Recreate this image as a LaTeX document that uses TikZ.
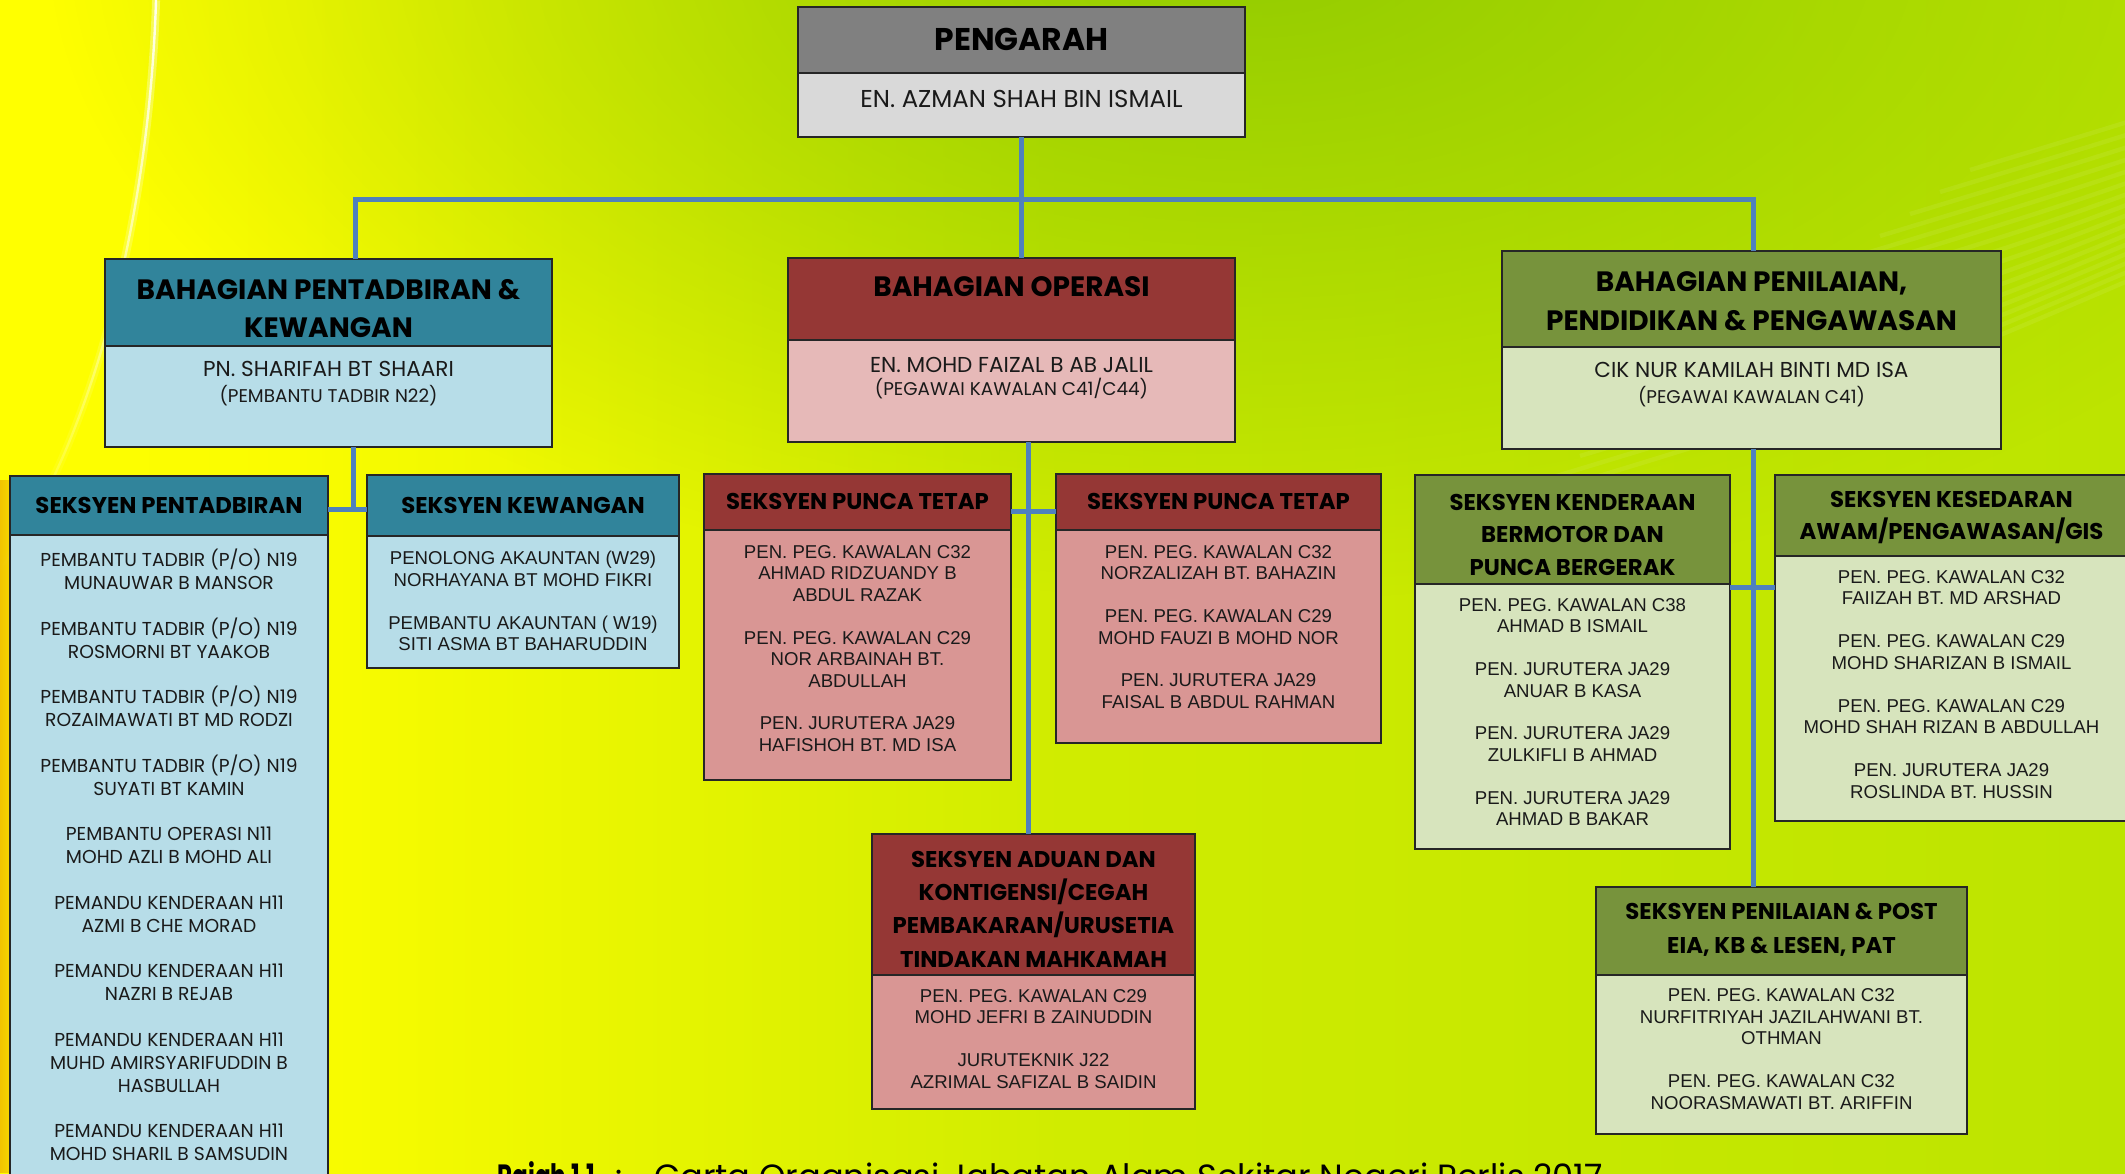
\documentclass[tikz,border=0pt]{standalone}
\usepackage{fontspec}
\usepackage{graphicx}
\setmainfont{Liberation Sans}
\newfontfamily\cg{Poppins}
\newfontfamily\ar{Liberation Sans}
\usetikzlibrary{fadings}
\definecolor{bgA}{HTML}{FFFF00}
\definecolor{bgB}{HTML}{FAFC00}
\definecolor{bgC}{HTML}{D0EC00}
\definecolor{bgD}{HTML}{BCE400}
\definecolor{glowc}{HTML}{8CC800}
\definecolor{orangetint}{HTML}{F2C400}
\definecolor{greyH}{HTML}{808080}
\definecolor{greyB}{HTML}{D9D9D9}
\definecolor{tealH}{HTML}{31849B}
\definecolor{tealB}{HTML}{B7DDE8}
\definecolor{redH}{HTML}{953735}
\definecolor{pinkL}{HTML}{E6B9B8}
\definecolor{pinkB}{HTML}{D99694}
\definecolor{oliveH}{HTML}{77933C}
\definecolor{oliveB}{HTML}{D7E4BD}
\definecolor{linkc}{HTML}{4F81BD}
\definecolor{txtc}{HTML}{1A1A1A}
\pgfdeclarehorizontalshading{bgsh}{100bp}{color(0bp)=(bgA); color(25bp)=(bgA); color(32bp)=(bgB); color(50bp)=(bgC); color(75bp)=(bgD); color(100bp)=(bgD)}
\tikzfading[name=glowfade, inner color=transparent!10, outer color=transparent!100]
\newcommand\fs[2]{\fontsize{#1}{#2}\selectfont}
\begin{document}
\begin{tikzpicture}[x=0.5pt,y=-0.5pt,
  bx/.style={draw=black!85, line width=0.8pt, anchor=north west, inner sep=0pt, outer sep=0pt},
  sz/.style 2 args={minimum width={#1*0.5pt}, minimum height={#2*0.5pt}},
  txt/.style={align=center, inner sep=0pt, anchor=center, text=txtc},
  hcg/.style={txt, text=black, font=\cg\bfseries\fs{#1}{#1}},
  conn/.style={draw=linkc, line width=2.5pt}
]
\clip (0,0) rectangle (2125,1173);
% background
\shade[shading=bgsh] (0,0) rectangle (2125,1173);
\fill[glowc, path fading=glowfade] (1250,-60) ellipse [x radius=600pt, y radius=330pt];
\fill[orangetint, path fading=east] (0,480) rectangle (30,1173);
\foreach \i in {0,...,15}
  \draw[white, opacity=0.07, line width=2.2pt] (1520+30*\i,500-22*\i) .. controls (1850+30*\i,400-22*\i) .. (2200+30*\i,250-22*\i);
\draw[white, opacity=0.35, line width=4pt, path fading=south] (156,0) .. controls (150,200) and (100,430) .. (0,570);
\draw[white, opacity=0.9, line width=1.2pt, path fading=south] (156,0) .. controls (150,200) and (100,430) .. (0,570);

% PENGARAH
\node[bx, fill=greyH, sz={447}{66}] (pgH) at (798,7) {};
\node[bx, fill=greyB, sz={447}{64}] (pgB) at (798,73) {};
\node[hcg=15.7] (pgHt) at (1021.5,39) {PENGARAH};
\node[txt, font=\cg\fs{12.2}{14}] (pgBt) at (1021.5,99) {EN. AZMAN SHAH BIN ISMAIL};

% BAHAGIAN PENTADBIRAN & KEWANGAN
\node[bx, fill=tealH, sz={447}{87}] (bpH) at (105,259) {};
\node[bx, fill=tealB, sz={447}{101}] (bpB) at (105,346) {};
\node[txt, text=black, font=\cg\bfseries\fs{14}{19}] (bpHt) at (328.5,309) {BAHAGIAN PENTADBIRAN \&\\KEWANGAN};
\node[txt, font=\cg\fs{10.8}{12}] (bpT1) at (328.5,369) {PN. SHARIFAH BT SHAARI};
\node[txt, font=\cg\fs{9.2}{10}] (bpT2) at (328.5,396) {(PEMBANTU TADBIR N22)};

% BAHAGIAN OPERASI
\node[bx, fill=redH, sz={447}{82}] (opH) at (788,258) {};
\node[bx, fill=pinkL, sz={447}{102}] (opB) at (788,340) {};
\node[hcg=14] (opHt) at (1011.5,287) {BAHAGIAN OPERASI};
\node[txt, font=\cg\fs{10.8}{12}] (opT1) at (1011.5,365) {EN. MOHD FAIZAL B AB JALIL};
\node[txt, font=\cg\fs{9.2}{10}] (opT2) at (1011.5,389) {(PEGAWAI KAWALAN C41/C44)};

% BAHAGIAN PENILAIAN
\node[bx, fill=oliveH, sz={499}{96}] (pnH) at (1502,251) {};
\node[bx, fill=oliveB, sz={499}{102}] (pnB) at (1502,347) {};
\node[txt, text=black, font=\cg\bfseries\fs{14}{19.5}] (pnHt) at (1751.5,301.5) {BAHAGIAN PENILAIAN,\\PENDIDIKAN \& PENGAWASAN};
\node[txt, font=\cg\fs{10.8}{12}] (pnT1) at (1751.5,370) {CIK NUR KAMILAH BINTI MD ISA};
\node[txt, font=\cg\fs{9.2}{10}] (pnT2) at (1751.5,397) {(PEGAWAI KAWALAN C41)};

% SEKSYEN PENTADBIRAN
\node[bx, fill=tealH, sz={318}{59}] (spH) at (10,476) {};
\node[bx, fill=tealB, sz={318}{700}] (spB) at (10,535) {};
\node[hcg=11.4] (spHt) at (169,505) {SEKSYEN PENTADBIRAN};
\node[txt, font=\cg\fs{9.35}{11.42}] (spBt) at (169,855) {PEMBANTU TADBIR (P/O) N19\\MUNAUWAR B MANSOR\\[11.42pt]
PEMBANTU TADBIR (P/O) N19\\ROSMORNI BT YAAKOB\\[11.42pt]
PEMBANTU TADBIR (P/O) N19\\ROZAIMAWATI BT MD RODZI\\[11.42pt]
PEMBANTU TADBIR (P/O) N19\\SUYATI BT KAMIN\\[11.42pt]
PEMBANTU OPERASI N11\\MOHD AZLI B MOHD ALI\\[11.42pt]
PEMANDU KENDERAAN H11\\AZMI B CHE MORAD\\[11.42pt]
PEMANDU KENDERAAN H11\\NAZRI B REJAB\\[11.42pt]
PEMANDU KENDERAAN H11\\MUHD AMIRSYARIFUDDIN B\\HASBULLAH\\[11.42pt]
PEMANDU KENDERAAN H11\\MOHD SHARIL B SAMSUDIN};

% SEKSYEN KEWANGAN
\node[bx, fill=tealH, sz={312}{61}] (skH) at (367,475) {};
\node[bx, fill=tealB, sz={312}{132}] (skB) at (367,536) {};
\node[hcg=11.4] (skHt) at (523,505) {SEKSYEN KEWANGAN};
\node[txt, font=\ar\fs{9.3}{10.75}] (skBt) at (523,601) {PENOLONG AKAUNTAN (W29)\\NORHAYANA BT MOHD FIKRI\\[10.75pt]
PEMBANTU AKAUNTAN ( W19)\\SITI ASMA BT BAHARUDDIN};

% SEKSYEN PUNCA TETAP (kiri)
\node[bx, fill=redH, sz={307}{56}] (ptlH) at (704,474) {};
\node[bx, fill=pinkB, sz={307}{250}] (ptlB) at (704,530) {};
\node[hcg=11.4] (ptlHt) at (857.5,501) {SEKSYEN PUNCA TETAP};
\node[txt, font=\ar\fs{9.3}{10.72}] (ptlBt) at (857.5,648.5) {PEN. PEG. KAWALAN C32\\AHMAD RIDZUANDY B\\ABDUL RAZAK\\[10.72pt]
PEN. PEG. KAWALAN C29\\NOR ARBAINAH BT.\\ABDULLAH\\[10.72pt]
PEN. JURUTERA JA29\\HAFISHOH BT. MD ISA};

% SEKSYEN PUNCA TETAP (kanan)
\node[bx, fill=redH, sz={325}{56}] (ptrH) at (1056,474) {};
\node[bx, fill=pinkB, sz={325}{213}] (ptrB) at (1056,530) {};
\node[hcg=11.4] (ptrHt) at (1218.5,501) {SEKSYEN PUNCA TETAP};
\node[txt, font=\ar\fs{9.3}{10.7}] (ptrBt) at (1218.5,627) {PEN. PEG. KAWALAN C32\\NORZALIZAH BT. BAHAZIN\\[10.7pt]
PEN. PEG. KAWALAN C29\\MOHD FAUZI B MOHD NOR\\[10.7pt]
PEN. JURUTERA JA29\\FAISAL B ABDUL RAHMAN};

% SEKSYEN ADUAN
\node[bx, fill=redH, sz={323}{141}] (adH) at (872,834) {};
\node[bx, fill=pinkB, sz={323}{134}] (adB) at (872,975) {};
\node[txt, text=black, font=\cg\bfseries\fs{11.4}{16.65}] (adHt) at (1033.5,909) {SEKSYEN ADUAN DAN\\KONTIGENSI/CEGAH\\PEMBAKARAN/URUSETIA\\TINDAKAN MAHKAMAH};
\node[txt, font=\ar\fs{9.3}{10.75}] (adBt) at (1033.5,1039) {PEN. PEG. KAWALAN C29\\MOHD JEFRI B ZAINUDDIN\\[10.75pt]
JURUTEKNIK J22\\AZRIMAL SAFIZAL B SAIDIN};

% SEKSYEN KENDERAAN
\node[bx, fill=oliveH, sz={315}{109}] (kdH) at (1415,475) {};
\node[bx, fill=oliveB, sz={315}{265}] (kdB) at (1415,584) {};
\node[txt, text=black, font=\cg\bfseries\fs{11.4}{16.25}] (kdHt) at (1572.5,534.5) {SEKSYEN KENDERAAN\\BERMOTOR DAN\\PUNCA BERGERAK};
\node[txt, font=\ar\fs{9.3}{10.7}] (kdBt) at (1572.5,712) {PEN. PEG. KAWALAN C38\\AHMAD B ISMAIL\\[10.7pt]
PEN. JURUTERA JA29\\ANUAR B KASA\\[10.7pt]
PEN. JURUTERA JA29\\ZULKIFLI B AHMAD\\[10.7pt]
PEN. JURUTERA JA29\\AHMAD B BAKAR};

% SEKSYEN KESEDARAN
\node[bx, fill=oliveH, sz={353}{81}] (ksH) at (1775,475) {};
\node[bx, fill=oliveB, sz={353}{265}] (ksB) at (1775,556) {};
\node[txt, text=black, font=\cg\bfseries\fs{11.4}{16}] (ksHt) at (1951.5,518) {SEKSYEN KESEDARAN\\AWAM/PENGAWASAN/GIS};
\node[txt, font=\ar\fs{9.3}{10.75}] (ksBt) at (1951.5,684.5) {PEN. PEG. KAWALAN C32\\FAIIZAH BT. MD ARSHAD\\[10.75pt]
PEN. PEG. KAWALAN C29\\MOHD SHARIZAN B ISMAIL\\[10.75pt]
PEN. PEG. KAWALAN C29\\MOHD SHAH RIZAN B ABDULLAH\\[10.75pt]
PEN. JURUTERA JA29\\ROSLINDA BT. HUSSIN};

% SEKSYEN PENILAIAN & POST
\node[bx, fill=oliveH, sz={371}{88}] (ppH) at (1596,887) {};
\node[bx, fill=oliveB, sz={371}{159}] (ppB) at (1596,975) {};
\node[txt, text=black, font=\cg\bfseries\fs{11.4}{17}] (ppHt) at (1781.5,930) {SEKSYEN PENILAIAN \& POST\\EIA, KB \& LESEN, PAT};
\node[txt, font=\ar\fs{9.3}{10.8}] (ppBt) at (1781.5,1049) {PEN. PEG. KAWALAN C32\\NURFITRIYAH JAZILAHWANI BT.\\OTHMAN\\[10.8pt]
PEN. PEG. KAWALAN C32\\NOORASMAWATI BT. ARIFFIN};

% caption (cut by the lower edge, as in the original)
\node[anchor=north west, inner sep=0pt, font=\cg\fs{16.8}{19}, text=black] (cap) at (497,1161) {\scalebox{0.69}[1]{\bfseries Rajah 1.1}\hspace{10pt}:\hspace{16pt}Carta Organisasi Jabatan Alam Sekitar Negeri Perlis 2017};

% connectors
\coordinate (barL) at (355,199);
\coordinate (barR) at (1753,199);
\draw[conn] (pgB.south) -- (pgB.south |- opH.north);
\draw[conn] (bpH.north -| barL) -- (barL) -- (barR) -- (barR |- pnH.north);
\coordinate (bpJ) at (353,509);
\draw[conn] (bpJ |- bpB.south) -- (bpJ);
\draw[conn] (spH.east |- bpJ) -- (skH.west |- bpJ);
\coordinate (opJ) at (1028,511);
\draw[conn] (opJ |- opB.south) -- (opJ |- adH.north);
\draw[conn] (ptlH.east |- opJ) -- (ptrH.west |- opJ);
\coordinate (pnJ) at (1753,587);
\draw[conn] (pnJ |- pnB.south) -- (pnJ |- ppH.north);
\draw[conn] (kdB.east |- pnJ) -- (ksB.west |- pnJ);
\end{tikzpicture}
\end{document}
